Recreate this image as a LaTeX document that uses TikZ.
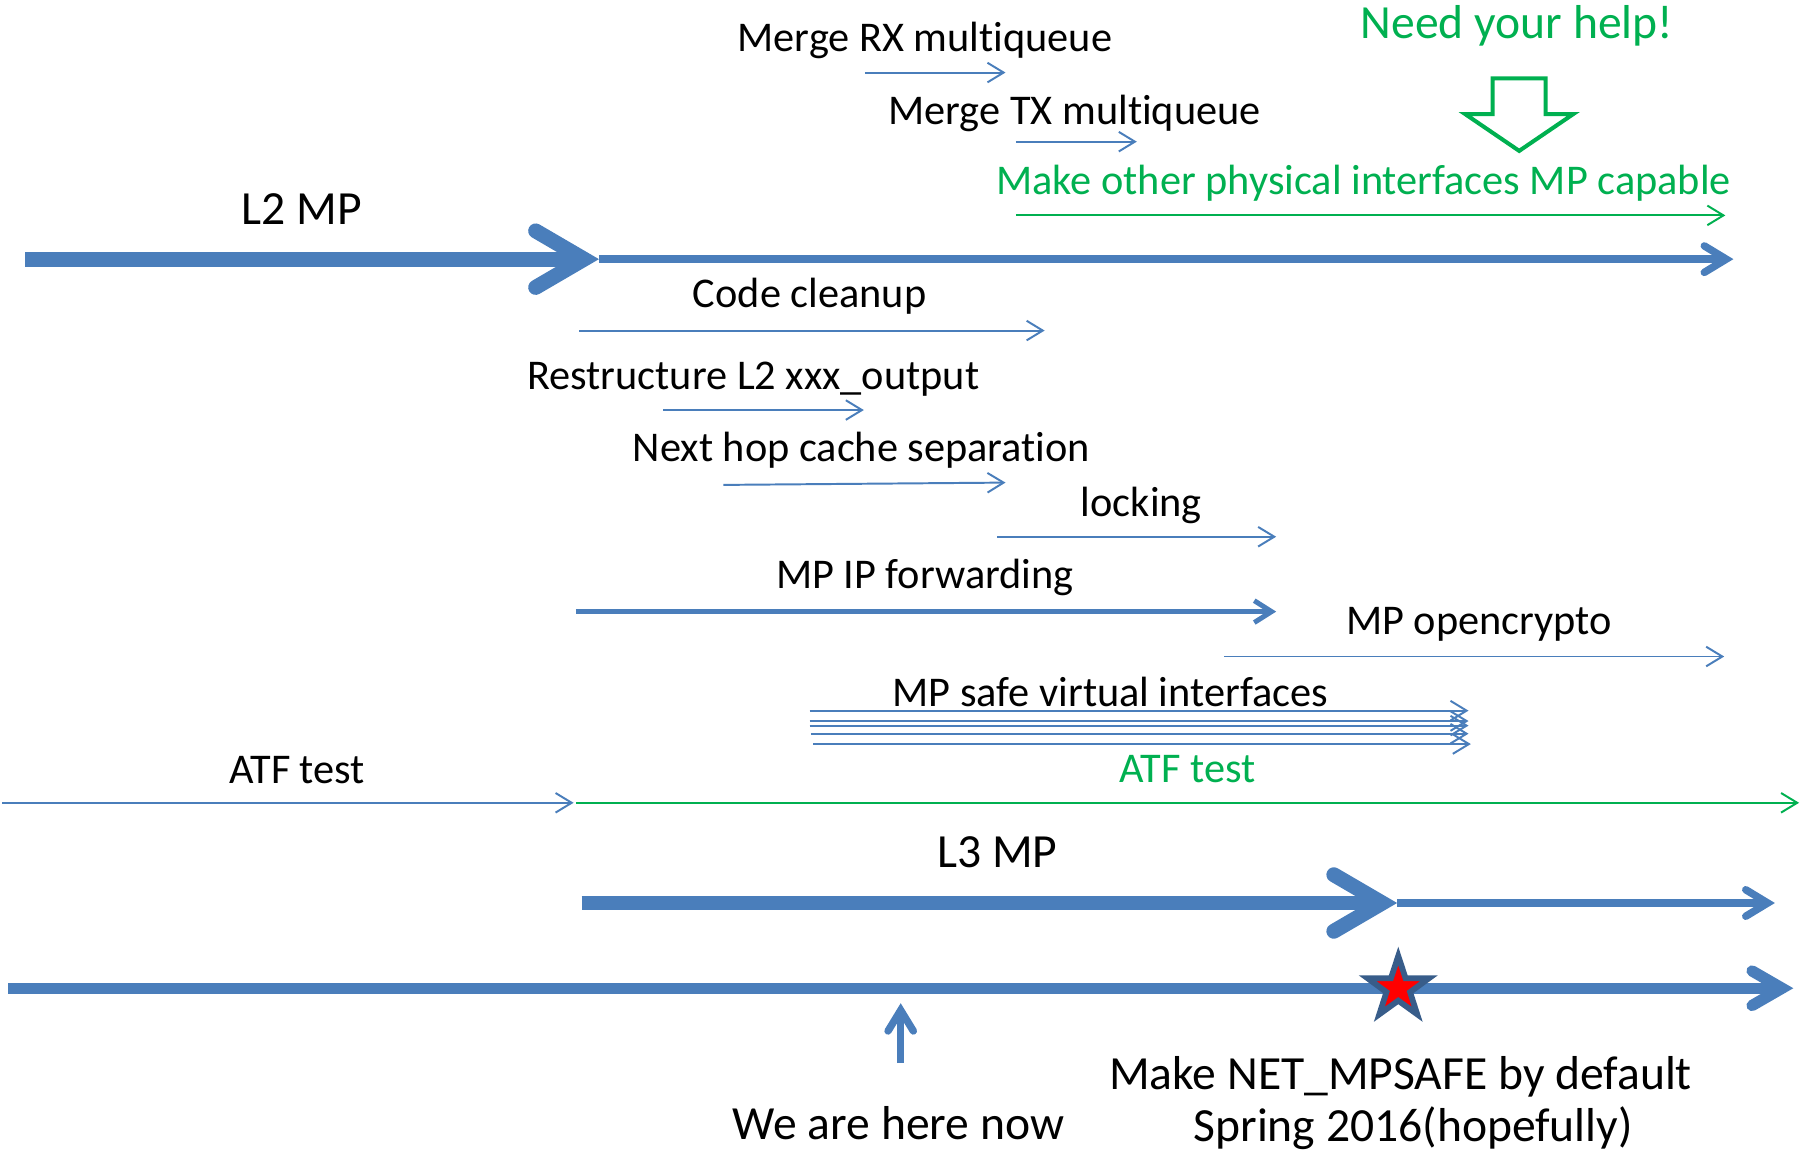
\documentclass[tikz,border=0pt]{standalone}
\usepackage{fontspec}
\setmainfont{Carlito}[Ligatures=NoCommon]
\usetikzlibrary{arrows.meta,shapes.geometric}
\definecolor{barblue}{HTML}{4A7EBB}
\definecolor{starblue}{HTML}{385D8A}
\definecolor{helpgreen}{HTML}{00B050}
\tikzset{
  lbl/.style={anchor=base,inner sep=0pt,font=\fontsize{10.45}{12}\selectfont},
  biglbl/.style={anchor=base,inner sep=0pt,font=\fontsize{11.75}{14}\selectfont},
  task/.style={barblue,line width=0.017cm,-{Straight Barb[length=0.14cm,width=0.17cm]}},
  greentask/.style={task,helpgreen},
  midtask/.style={barblue,line width=0.043cm,-{Straight Barb[length=0.15cm,width=0.19cm]}},
  phase/.style={barblue,line width=0.13cm,-{Straight Barb[length=0.42cm,width=0.49cm,line cap=round,line join=miter]}},
  followup/.style={barblue,line width=0.065cm,-{Straight Barb[length=0.19cm,width=0.23cm,line cap=round,line join=miter]}},
  timeline/.style={barblue,line width=0.098cm,-{Straight Barb[length=0.26cm,width=0.30cm,line cap=round,line join=miter]}},
  pointer/.style={barblue,line width=0.064cm,-{Straight Barb[length=0.18cm,width=0.22cm,line cap=round,line join=miter]}},
  milestone/.style={star,star points=5,star point ratio=2.6,draw=starblue,line width=0.05cm,fill=red,minimum size=0.56cm,inner sep=0pt}
}
\begin{document}
\begin{tikzpicture}[x=0.01cm,y=-0.01cm]
    \useasboundingbox (0,0) rectangle (1568,1000);
    \node[lbl] (rx) at (803,45) {Merge RX multiqueue};
    \node[lbl] (tx) at (933,108) {Merge TX multiqueue};
    \node[biglbl,text=helpgreen] (help) at (1317,33) {Need your help!};
    \node[lbl,text=helpgreen] (other) at (1184,169) {Make other physical interfaces MP capable};
    \node[biglbl] (l2) at (262,195) {L2 MP};
    \node[lbl] (cleanup) at (703,267) {Code cleanup};
    \node[lbl] (restruct) at (654,338) {Restructure L2 xxx\_output};
    \node[lbl] (nexthop) at (748,401) {Next hop cache separation};
    \node[lbl] (locking) at (991,448) {locking};
    \node[lbl] (ipfwd) at (803,511) {MP IP forwarding};
    \node[lbl] (crypto) at (1284,551) {MP opencrypto};
    \node[lbl] (vif) at (964,613) {MP safe virtual interfaces};
    \node[lbl] (atf) at (258,680) {ATF test};
    \node[lbl,text=helpgreen] (atfnew) at (1031,679) {ATF test};
    \node[biglbl] (l3) at (866,753) {L3 MP};
    \node[biglbl] (now) at (780,989) {We are here now};
    \node[biglbl] (netmp) at (1216,946) {Make NET\_MPSAFE by default};
    \node[biglbl] (spring) at (1227,991) {Spring 2016(hopefully)};

    \draw[helpgreen,line width=0.035cm] (1296,68) -- (1342,68) -- (1342,99) -- (1366,99) -- (1319,131) -- (1272,99) -- (1296,99) -- cycle;

    \draw[task] (751,63) -- (873,63);
    \draw[task] (882,123) -- (987,123);
    \draw[greentask] (882,187) -- (1498,187);
    \draw[phase] (22,225) -- (520,225);
    \draw[followup] (520,225) -- (1505,225);
    \draw[task] (503,287) -- (907,287);
    \draw[task] (576,356) -- (750,356);
    \draw[task] (628,421) -- (873,419);
    \draw[task] (866,466) -- (1108,466);
    \draw[midtask] (500,531) -- (1108,531);
    \draw[task] (1063,570) -- (1497,570);
    \foreach \y/\xa/\xb in {617/703/1275,626/703/1275,630/703/1275,637/704/1275,646/706/1277}
      \draw[task] (\xa,\y) -- (\xb,\y);
    \draw[task] (2,697) -- (498,697);
    \draw[greentask] (500,697) -- (1562,697);
    \draw[phase] (505,784) -- (1213,784);
    \draw[followup] (1213,784) -- (1541,784);
    \draw[timeline] (7,858) -- (1557,858);
    \draw[pointer] (782,923) -- (782,871);
    \node[milestone] (target) at (1214,858) {};
\end{tikzpicture}
\end{document}
